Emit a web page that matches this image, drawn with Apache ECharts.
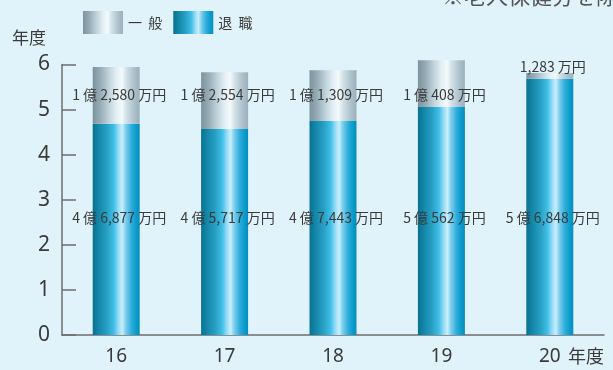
<!DOCTYPE html>
<html>
<head>
<meta charset="utf-8">
<script src="https://cdn.jsdelivr.net/npm/echarts@6/dist/echarts.min.js"></script>
<style>
html,body{margin:0;padding:0;background:#e0f3fa;}
#c{width:613px;height:370px;}
</style>
</head>
<body>
<div id="c"></div>
<script>
// Data (values in 万円)
const categories = ['16', '17', '18', '19', '20'];
const generalMan = [12580, 12554, 11309, 10408, 1283];   // 一般
const retireMan  = [46877, 45717, 47443, 50562, 56848];  // 退職
const yTicks = [0, 1, 2, 3, 4, 5, 6];
const seriesNames = ['一  般', '退  職'];

// style constants
const GRID_TOP = 64.5, GRID_BOTTOM = 35, CH = 370;
const GRID_H = CH - GRID_TOP - GRID_BOTTOM;
const Y_MAX = 6;
const GEN_LABEL_V = 5.33, RET_LABEL_V = 2.6;
function yPix(v){ return GRID_TOP + (1 - v / Y_MAX) * GRID_H; }

function fmtMan(v){
  const oku = Math.floor(v / 10000);
  const man = v % 10000;
  const manStr = man.toLocaleString('en-US');
  return oku > 0 ? (oku + ' 億 ' + manStr + ' 万円') : (manStr + ' 万円');
}
const generalOku = generalMan.map(v => v / 10000);
const retireOku = retireMan.map(v => v / 10000);

const gradRetire = new echarts.graphic.LinearGradient(0, 0, 1, 0, [
  {offset: 0, color: '#08728f'},
  {offset: 0.12, color: '#1386a8'},
  {offset: 0.3, color: '#279fc3'},
  {offset: 0.45, color: '#40bfe8'},
  {offset: 0.55, color: '#98dcf6'},
  {offset: 0.63, color: '#c9effc'},
  {offset: 0.7, color: '#80cfee'},
  {offset: 0.82, color: '#2faedb'},
  {offset: 0.92, color: '#0b9dcd'},
  {offset: 1, color: '#098bba'}
]);
const gradGeneral = new echarts.graphic.LinearGradient(0, 0, 1, 0, [
  {offset: 0, color: '#7d939f'},
  {offset: 0.15, color: '#94a9b4'},
  {offset: 0.35, color: '#c2d4dc'},
  {offset: 0.5, color: '#e3eff4'},
  {offset: 0.62, color: '#f3fafc'},
  {offset: 0.72, color: '#d0e0e7'},
  {offset: 0.88, color: '#adc1cb'},
  {offset: 1, color: '#9ab0bc'}
]);

const labelFont = {fontSize: 14, color: '#3a3a3a', fontFamily: '"Noto Sans CJK JP", "Noto Sans", sans-serif'};

const chart = echarts.init(document.getElementById('c'), null, {renderer: 'canvas'});
chart.setOption({
  backgroundColor: '#e0f3fa',
  animation: false,
  textStyle: {fontFamily: '"Noto Sans CJK JP", "Noto Sans", sans-serif'},
  grid: {left: 62, right: 9, top: GRID_TOP, bottom: GRID_BOTTOM, containLabel: false},
  legend: {
    left: 78, top: 6, itemWidth: 40, itemHeight: 23, itemGap: 11,
    icon: 'rect',
    textStyle: {fontSize: 14, color: '#3a3a3a'},
    data: seriesNames
  },
  graphic: [
    {type: 'text', left: 442, top: -15, style: {text: '※老人保健分を除く', fontSize: 22, fill: '#555', fontFamily: '"Noto Sans CJK JP", sans-serif'}},
    {type: 'text', left: 568, top: 347, style: {text: '年度', fontSize: 18, fill: '#3a3a3a', fontFamily: '"Noto Sans CJK JP", sans-serif'}}
  ],
  xAxis: {
    type: 'category',
    data: categories,
    boundaryGap: true,
    axisLine: {lineStyle: {color: '#6e6e6e', width: 1.5}},
    axisTick: {inside: true, length: 9, lineStyle: {color: '#6e6e6e', width: 1.5}},
    axisLabel: {fontSize: 19, color: '#3a3a3a', margin: 12, fontFamily: '"Noto Sans", sans-serif'}
  },
  yAxis: {
    type: 'value',
    min: 0, max: Y_MAX, interval: 1,
    name: '年度',
    nameLocation: 'end',
    nameGap: 18,
    nameTextStyle: {fontSize: 17, color: '#3a3a3a', align: 'right', padding: [0, 16, 0, 0]},
    axisLine: {show: true, lineStyle: {color: '#6e6e6e', width: 1.5}},
    axisTick: {show: true, inside: true, length: 14, lineStyle: {color: '#6e6e6e', width: 1.5}},
    axisLabel: {fontSize: 21, color: '#3a3a3a', margin: 12, fontFamily: '"Noto Sans", sans-serif',
      formatter: v => yTicks.includes(v) ? String(v) : ''},
    splitLine: {show: false}
  },
  series: [
    {
      name: seriesNames[1], type: 'bar', stack: 'total', barWidth: 47, clip: false,
      itemStyle: {color: gradRetire},
      data: retireOku,
      label: Object.assign({show: true, position: 'inside', formatter: p => fmtMan(retireMan[p.dataIndex])}, labelFont),
      labelLayout: function(p){ return {x: p.rect.x + p.rect.width / 2 + 3, y: yPix(RET_LABEL_V), align: 'center', verticalAlign: 'middle'}; }
    },
    {
      name: seriesNames[0], type: 'bar', stack: 'total', barWidth: 47, clip: false,
      itemStyle: {color: gradGeneral},
      data: generalOku,
      label: Object.assign({show: true, position: 'inside', formatter: p => fmtMan(generalMan[p.dataIndex])}, labelFont),
      labelLayout: function(p){
        const small = p.rect.height < 20;
        return {x: p.rect.x + p.rect.width / 2 + 3,
                y: small ? p.rect.y - 6 : yPix(GEN_LABEL_V),
                align: 'center', verticalAlign: 'middle'};
      }
    }
  ]
});
</script>
</body>
</html>
